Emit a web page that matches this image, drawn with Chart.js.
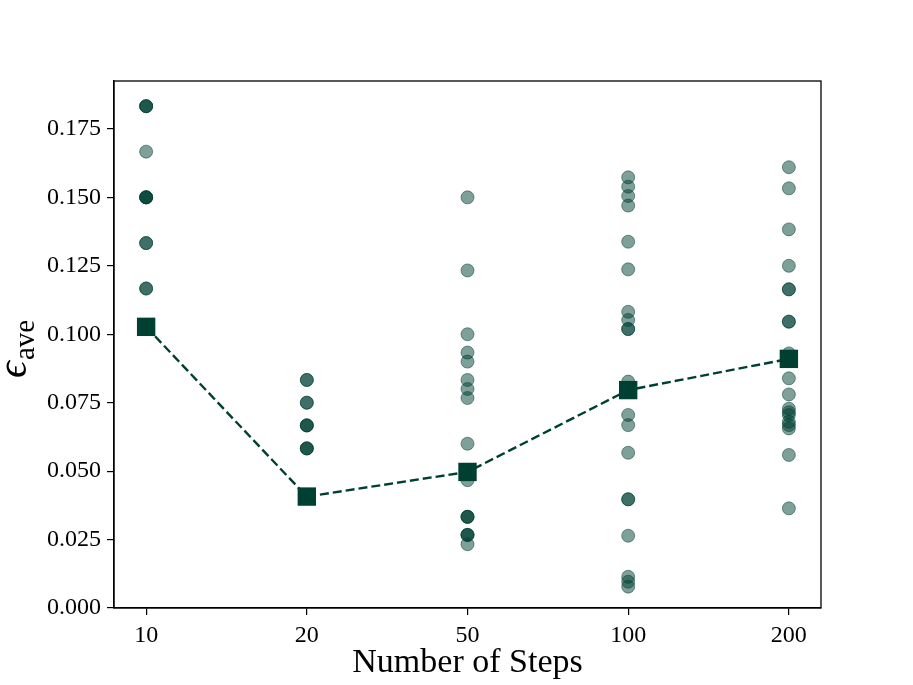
<!DOCTYPE html>
<html>
<head>
<meta charset="utf-8">
<script src="https://cdn.jsdelivr.net/npm/chart.js@4/dist/chart.umd.min.js"></script>
<style>
  html, body { margin: 0; padding: 0; background: #fff; }
  #wrap { width: 913px; height: 685px; }
</style>
</head>
<body>
<div id="wrap"><canvas id="steps"></canvas></div>
<script>
const steps = ['10', '20', '50', '100', '200'];
const yTicks = [0, 0.025, 0.05, 0.075, 0.1, 0.125, 0.15, 0.175];

// error of each run, per step count (repeated values overlap and look darker)
const eps10 = [0.1833, 0.1833, 0.1833, 0.1667, 0.15, 0.15, 0.15, 0.15, 0.1333, 0.1333, 0.1167, 0.1167];
const eps20 = [0.0833, 0.0833, 0.075, 0.075, 0.0667, 0.0667, 0.0667, 0.0583, 0.0583, 0.0583];
const eps50 = [0.150, 0.1233, 0.100, 0.0933, 0.090, 0.0833, 0.080, 0.0767, 0.060, 0.0467,
               0.0333, 0.0333, 0.0333, 0.0267, 0.0267, 0.0267, 0.0233];
const eps100 = [0.1573, 0.1539, 0.1505, 0.147, 0.1338, 0.1237, 0.1082, 0.1052, 0.1019, 0.1019,
                0.0827, 0.0705, 0.0668, 0.0567, 0.0397, 0.0397, 0.0264, 0.0114, 0.0096, 0.0078];
const eps200 = [0.161, 0.1533, 0.1383, 0.125, 0.1164, 0.1164, 0.1046, 0.1046, 0.093, 0.0839,
                0.078, 0.0728, 0.0715, 0.0705, 0.068, 0.0668, 0.0656, 0.0559, 0.0364];
const means = [0.1027, 0.0407, 0.0497, 0.0796, 0.0910];

const green = 'rgb(0, 64, 51)';
const greenAlpha = 'rgba(0, 64, 51, 0.5)';
const serif = "'Liberation Serif', 'DejaVu Serif', serif";

const runs = [eps10, eps20, eps50, eps100, eps200];
const runPoints = [];
runs.forEach((col, i) => col.forEach(v => runPoints.push({ x: i, y: v })));

// y axis title with subscript, plus top/right frame
const extras = {
    id: 'extras',
    afterDraw(chart) {
        const c = chart.ctx;
        const a = chart.chartArea;
        c.save();
        c.strokeStyle = '#000';
        c.lineWidth = 1.3;
        c.strokeRect(a.left, a.top, a.right - a.left, a.bottom - a.top);

        c.fillStyle = '#000';
        c.translate(26, 378);
        c.rotate(-Math.PI / 2);
        c.textBaseline = 'alphabetic';
        c.font = 'italic 42px ' + serif;
        c.fillText('ϵ', 0, 0);
        const w = c.measureText('ϵ').width;
        c.font = '29px ' + serif;
        c.fillText('ave', w + 1, 8);
        c.restore();
    }
};

new Chart(document.getElementById('steps'), {
    type: 'scatter',
    data: {
        datasets: [{
            data: means.map((v, i) => ({ x: i, y: v })),
            showLine: true,
            borderColor: green,
            borderWidth: 2.4,
            borderDash: [9, 4],
            pointStyle: 'rect',
            pointRadius: 13,
            pointBackgroundColor: green,
            pointBorderWidth: 0,
            order: 0
        }, {
            data: runPoints,
            pointRadius: 6.5,
            backgroundColor: greenAlpha,
            borderColor: greenAlpha,
            borderWidth: 1,
            order: 1
        }]
    },
    options: {
        responsive: true,
        maintainAspectRatio: false,
        animation: false,
        layout: { padding: { left: 0, top: 81, right: 92, bottom: 0 } },
        plugins: { legend: { display: false }, tooltip: { enabled: false } },
        scales: {
            x: {
                type: 'linear',
                min: -0.2,
                max: 4.2,
                afterBuildTicks: s => { s.ticks = steps.map((t, i) => ({ value: i })); },
                afterFit: s => { s.height = 77; },
                ticks: {
                    autoSkip: false,
                    maxRotation: 0,
                    color: '#000',
                    padding: 6,
                    font: { family: serif, size: 24 },
                    callback: v => steps[v]
                },
                grid: { drawOnChartArea: false, color: '#000', tickLength: 7, lineWidth: 1.2 },
                border: { color: '#000', width: 1.3 },
                title: {
                    display: true,
                    text: 'Number of Steps',
                    color: '#000',
                    font: { family: serif, size: 34 },
                    padding: { top: 0, bottom: 2 }
                }
            },
            y: {
                min: 0,
                max: 0.1925,
                afterBuildTicks: s => { s.ticks = yTicks.map(v => ({ value: v })); },
                afterFit: s => { s.width = 114; },
                ticks: {
                    color: '#000',
                    padding: 6,
                    font: { family: serif, size: 24 },
                    callback: v => v.toFixed(3)
                },
                grid: { drawOnChartArea: false, color: '#000', tickLength: 7, lineWidth: 1.2 },
                border: { color: '#000', width: 1.3 }
            }
        }
    },
    plugins: [extras]
});
</script>
